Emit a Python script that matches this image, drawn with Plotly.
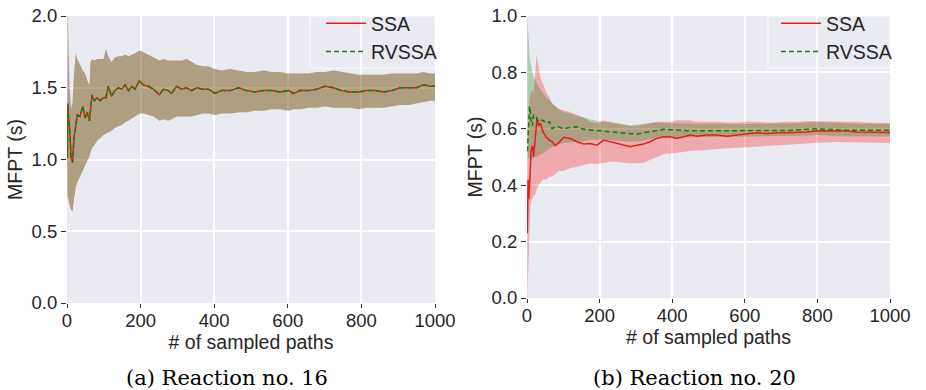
import plotly.graph_objects as go

# ---------------- Panel (a): Reaction no. 16 ----------------
paths_a = [1, 2, 4, 7, 11, 15, 19, 24, 28, 35, 43, 49, 55, 61, 64, 68, 74, 82, 90, 99,
           106, 112, 121, 130, 139, 149, 158, 167, 176, 185, 197, 207, 221, 235, 251, 262,
           275, 284, 298, 312, 325, 339, 352, 370, 384, 402, 420, 443, 466, 488, 511, 534,
           556, 579, 602, 615, 633, 656, 678, 701, 724, 746, 769, 792, 814, 837, 860, 882,
           905, 928, 950, 968, 987, 1000]
ssa_mean_a = [1.01, 1.39, 1.30, 1.22, 1.02, 0.98, 1.15, 1.25, 1.31, 1.30, 1.37, 1.29, 1.33, 1.27,
              1.36, 1.45, 1.41, 1.43, 1.41, 1.43, 1.43, 1.51, 1.44, 1.48, 1.50, 1.49, 1.52, 1.48,
              1.51, 1.49, 1.55, 1.52, 1.51, 1.49, 1.45, 1.49, 1.48, 1.46, 1.51, 1.49, 1.50, 1.48,
              1.50, 1.49, 1.49, 1.46, 1.48, 1.48, 1.50, 1.48, 1.47, 1.48, 1.48, 1.47, 1.48, 1.46,
              1.48, 1.48, 1.49, 1.51, 1.50, 1.48, 1.47, 1.47, 1.48, 1.48, 1.47, 1.48, 1.50, 1.50,
              1.50, 1.52, 1.51, 1.51]
ssa_upper_a = [1.30, 2.10, 1.80, 1.50, 1.35, 1.40, 1.60, 1.74, 1.70, 1.66, 1.62, 1.60, 1.55, 1.52,
               1.68, 1.70, 1.69, 1.70, 1.70, 1.70, 1.77, 1.72, 1.68, 1.71, 1.72, 1.72, 1.73, 1.72,
               1.73, 1.74, 1.76, 1.75, 1.73, 1.71, 1.69, 1.70, 1.69, 1.69, 1.69, 1.69, 1.70, 1.68,
               1.66, 1.65, 1.65, 1.63, 1.62, 1.63, 1.62, 1.61, 1.61, 1.62, 1.61, 1.61, 1.60, 1.60,
               1.60, 1.60, 1.61, 1.61, 1.62, 1.61, 1.60, 1.59, 1.59, 1.59, 1.59, 1.60, 1.60, 1.60,
               1.60, 1.61, 1.60, 1.60]
ssa_lower_a = [0.72, 0.75, 0.72, 0.68, 0.65, 0.64, 0.72, 0.81, 0.84, 0.88, 0.93, 0.96, 0.99, 1.02,
               1.05, 1.08, 1.10, 1.13, 1.15, 1.17, 1.18, 1.19, 1.20, 1.22, 1.23, 1.24, 1.26, 1.27,
               1.28, 1.30, 1.32, 1.32, 1.31, 1.30, 1.27, 1.28, 1.27, 1.28, 1.30, 1.30, 1.30, 1.30,
               1.31, 1.32, 1.32, 1.31, 1.32, 1.32, 1.33, 1.33, 1.34, 1.34, 1.35, 1.35, 1.34, 1.35,
               1.35, 1.36, 1.36, 1.37, 1.36, 1.36, 1.36, 1.35, 1.36, 1.36, 1.36, 1.37, 1.38, 1.38,
               1.39, 1.40, 1.41, 1.41]
# RVSSA is visually indistinguishable from SSA in panel (a)
rvssa_mean_a = list(ssa_mean_a)
rvssa_upper_a = list(ssa_upper_a)
rvssa_lower_a = list(ssa_lower_a)

# ---------------- Panel (b): Reaction no. 20 ----------------
paths_b = [1, 3, 5, 7, 9, 11, 15, 18, 23, 26, 28, 32, 37, 44, 53, 62, 69, 78, 87, 101, 119, 138,
           156, 174, 193, 211, 229, 248, 266, 284, 303, 321, 339, 358, 376, 394, 413, 431, 450,
           468, 495, 523, 550, 578, 606, 633, 661, 688, 716, 743, 771, 798, 826, 853, 881, 908,
           936, 963, 1000]
ssa_mean_b = [0.23, 0.42, 0.35, 0.39, 0.45, 0.52, 0.54, 0.50, 0.57, 0.60, 0.64, 0.61, 0.62, 0.59,
              0.57, 0.56, 0.555, 0.54, 0.55, 0.57, 0.566, 0.554, 0.546, 0.548, 0.542, 0.56, 0.554,
              0.548, 0.542, 0.536, 0.542, 0.546, 0.554, 0.566, 0.572, 0.572, 0.566, 0.572, 0.578,
              0.574, 0.578, 0.578, 0.574, 0.578, 0.583, 0.586, 0.583, 0.586, 0.586, 0.587, 0.589,
              0.593, 0.593, 0.593, 0.592, 0.589, 0.589, 0.589, 0.587]
ssa_upper_b = [0.45, 0.62, 0.66, 0.70, 0.72, 0.73, 0.74, 0.72, 0.80, 0.86, 0.85, 0.82, 0.78, 0.76,
               0.73, 0.71, 0.69, 0.68, 0.67, 0.666, 0.66, 0.65, 0.64, 0.625, 0.62, 0.63, 0.625,
               0.62, 0.615, 0.61, 0.61, 0.615, 0.62, 0.625, 0.625, 0.625, 0.63, 0.63, 0.63, 0.625,
               0.625, 0.625, 0.622, 0.622, 0.625, 0.625, 0.622, 0.622, 0.625, 0.625, 0.628, 0.628,
               0.628, 0.626, 0.625, 0.625, 0.622, 0.621, 0.621]
ssa_lower_b = [0.0, 0.11, 0.20, 0.25, 0.32, 0.34, 0.35, 0.36, 0.37, 0.38, 0.39, 0.40, 0.41, 0.42,
               0.42, 0.43, 0.43, 0.44, 0.45, 0.45, 0.46, 0.465, 0.47, 0.477, 0.475, 0.48, 0.483,
               0.483, 0.48, 0.477, 0.478, 0.48, 0.49, 0.50, 0.51, 0.512, 0.515, 0.518, 0.522,
               0.524, 0.525, 0.528, 0.53, 0.532, 0.535, 0.537, 0.538, 0.54, 0.542, 0.545, 0.548,
               0.55, 0.552, 0.553, 0.554, 0.554, 0.553, 0.551, 0.55]
rvssa_mean_b = [0.52, 0.58, 0.67, 0.68, 0.66, 0.63, 0.61, 0.65, 0.645, 0.64, 0.63, 0.625, 0.63,
                0.63, 0.62, 0.625, 0.60, 0.607, 0.607, 0.60, 0.605, 0.607, 0.598, 0.596, 0.595,
                0.593, 0.590, 0.589, 0.586, 0.583, 0.581, 0.586, 0.59, 0.595, 0.598, 0.597, 0.595,
                0.595, 0.593, 0.593, 0.593, 0.593, 0.592, 0.593, 0.593, 0.592, 0.593, 0.593, 0.594,
                0.596, 0.598, 0.600, 0.598, 0.596, 0.595, 0.595, 0.595, 0.595, 0.595]
rvssa_upper_b = [1.0, 0.94, 0.89, 0.86, 0.84, 0.82, 0.80, 0.785, 0.77, 0.765, 0.76, 0.75, 0.74,
                 0.73, 0.71, 0.70, 0.69, 0.68, 0.67, 0.66, 0.654, 0.645, 0.64, 0.633, 0.628, 0.625,
                 0.621, 0.619, 0.616, 0.613, 0.615, 0.618, 0.621, 0.622, 0.621, 0.62, 0.619, 0.619,
                 0.618, 0.618, 0.618, 0.617, 0.617, 0.617, 0.617, 0.617, 0.618, 0.618, 0.619, 0.62,
                 0.622, 0.624, 0.622, 0.62, 0.619, 0.618, 0.618, 0.617, 0.617]
rvssa_lower_b = [0.48, 0.49, 0.50, 0.50, 0.49, 0.49, 0.49, 0.50, 0.50, 0.50, 0.50, 0.505, 0.51,
                 0.515, 0.52, 0.53, 0.535, 0.54, 0.545, 0.55, 0.552, 0.555, 0.557, 0.56, 0.56,
                 0.562, 0.56, 0.558, 0.556, 0.554, 0.555, 0.558, 0.562, 0.566, 0.568, 0.569, 0.569,
                 0.57, 0.57, 0.571, 0.571, 0.572, 0.572, 0.572, 0.573, 0.573, 0.573, 0.574, 0.574,
                 0.575, 0.576, 0.578, 0.576, 0.574, 0.574, 0.573, 0.573, 0.573, 0.573]

x_ticks = [0, 200, 400, 600, 800, 1000]
y_ticks_a = [0.0, 0.5, 1.0, 1.5, 2.0]
y_ticks_b = [0.0, 0.2, 0.4, 0.6, 0.8, 1.0]
series_names = ["SSA", "RVSSA"]
captions = ["(a) Reaction no. 16", "(b) Reaction no. 20"]

RED = "rgb(232,30,24)"
GREEN = "rgb(20,128,20)"
RED_FILL = "rgba(255,0,0,0.27)"
GREEN_FILL = "rgba(0,128,0,0.27)"
BG = "#EAEAF2"
SANS = "Liberation Sans"

fig = go.Figure()


def add_panel(paths, means, uppers, lowers, xa, ya, legend):
    fills = [RED_FILL, GREEN_FILL]
    colors = [RED, GREEN]
    dashes = ["solid", "5px,3px"]
    for k in range(2):
        fig.add_trace(go.Scatter(
            x=paths + paths[::-1], y=uppers[k] + lowers[k][::-1],
            fill="toself", fillcolor=fills[k], line=dict(width=0),
            mode="lines", hoverinfo="skip", showlegend=False,
            xaxis=xa, yaxis=ya))
    for k in range(2):
        fig.add_trace(go.Scatter(
            x=paths, y=means[k], mode="lines", name=series_names[k],
            line=dict(color=colors[k], width=1.5, dash=dashes[k]),
            xaxis=xa, yaxis=ya, legend=legend))


add_panel(paths_a, [ssa_mean_a, rvssa_mean_a], [ssa_upper_a, rvssa_upper_a],
          [ssa_lower_a, rvssa_lower_a], "x", "y", "legend")
add_panel(paths_b, [ssa_mean_b, rvssa_mean_b], [ssa_upper_b, rvssa_upper_b],
          [ssa_lower_b, rvssa_lower_b], "x2", "y2", "legend2")

W, H = 926, 390
tick_font = dict(family=SANS, size=18.5, color="#262626")
title_font = dict(family=SANS, size=19.5, color="#262626")

xcommon = dict(range=[0, 1000], tickvals=x_ticks, showgrid=True, gridcolor="white",
               gridwidth=1.5, zeroline=False, ticks="outside", ticklen=4, tickwidth=1,
               tickcolor="#333", tickfont=tick_font, showline=False, automargin=False,
               ticklabelstandoff=-3,
               title=dict(text="# of sampled paths", font=title_font, standoff=0))
ycommon = dict(showgrid=True, gridcolor="white", gridwidth=1.5, zeroline=False,
               ticks="outside", ticklen=5, tickwidth=1, tickcolor="#333", tickfont=tick_font,
               tickformat=".1f", showline=False, automargin=False,
               title=dict(text="MFPT (s)", font=title_font, standoff=3))

# legend entries are transparent; the legend frame is drawn as a shape between grid and traces
legend_common = dict(xanchor="right", y=1 - 4 / H, yanchor="top",
                     bgcolor="rgba(0,0,0,0)", borderwidth=0,
                     font=dict(family=SANS, size=19.5, color="#262626"),
                     tracegroupgap=0, itemwidth=40)

fig.update_layout(
    width=W, height=H, margin=dict(l=0, r=0, t=0, b=0, autoexpand=False),
    paper_bgcolor="white", plot_bgcolor=BG,
    xaxis=dict(domain=[67 / W, 435 / W], anchor="y", **xcommon),
    yaxis=dict(domain=[1 - 303 / H, 1 - 16 / H], anchor="x", range=[0, 2.0],
               tickvals=y_ticks_a, **ycommon),
    xaxis2=dict(domain=[527 / W, 890 / W], anchor="y2", **xcommon),
    yaxis2=dict(domain=[1 - 298 / H, 1 - 16 / H], anchor="x2", range=[0, 1.0],
                tickvals=y_ticks_b, **ycommon),
    legend=dict(x=442 / W, **legend_common),
    legend2=dict(x=897 / W, **legend_common),
    showlegend=True,
)

frames = [(310, 435), (768, 890)]
for x0, x1 in frames:
    fig.add_shape(type="rect", xref="paper", yref="paper",
                  x0=x0 / W, x1=x1 / W, y0=1 - 68 / H, y1=1 - 16 / H,
                  fillcolor=BG, line=dict(color="rgba(255,255,255,0.85)", width=1),
                  layer="between")

caption_x = [227 / W, 694 / W]
for txt, cx in zip(captions, caption_x):
    fig.add_annotation(text=txt, x=cx, y=1 - 378 / H, xref="paper", yref="paper",
                       showarrow=False, xanchor="center", yanchor="middle",
                       font=dict(family="DejaVu Serif", size=21, color="black"))

fig.write_html("out.html", config={"displayModeBar": False},
               post_script="document.body.style.margin='0px';"
                           "document.body.style.overflow='hidden';")
